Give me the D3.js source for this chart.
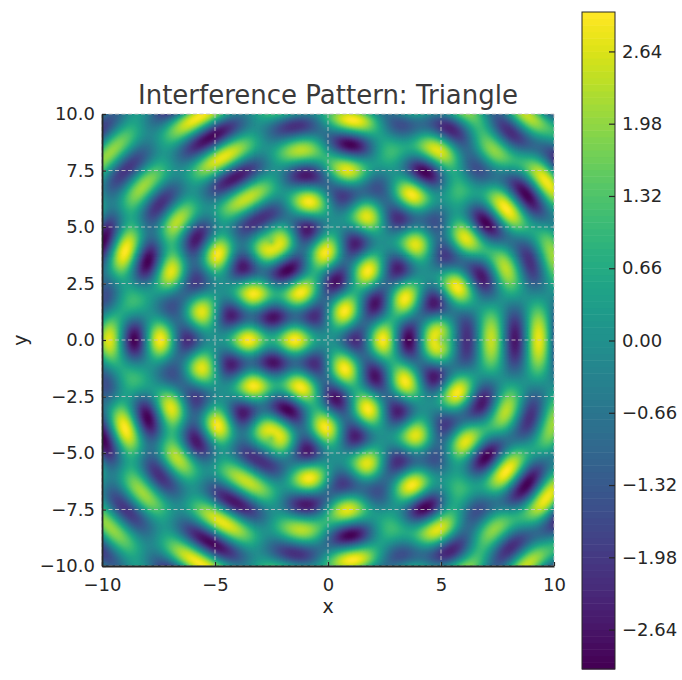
<!DOCTYPE html>
<html>
<head>
<meta charset="utf-8">
<script src="https://cdn.jsdelivr.net/npm/d3@7"></script>
<style>
  html, body { margin: 0; padding: 0; background: #fff; }
  svg { display: block; font-family: "DejaVu Sans", sans-serif; }
</style>
</head>
<body>
<svg id="chart" width="682" height="680"></svg>
<script>
// ---- data ----
const title = "Interference Pattern: Triangle";
const sourceX = [5, -2.5, -2.5];          // triangle vertices (x)
const sourceY = [0, 4.33, -4.33];         // triangle vertices (y)
const waveNumber = [Math.PI];             // k in sin(k r)
const domainX = [-10, 10];
const domainY = [-10, 10];
const xTicks = [-10, -5, 0, 5, 10];
const yTicks = [-10, -7.5, -5, -2.5, 0, 2.5, 5, 7.5, 10];
const colorDomain = [-3.0, 3.0];
const levelCount = [100];
const cbTicks = [-2.64, -1.98, -1.32, -0.66, 0, 0.66, 1.32, 1.98, 2.64];

// ---- layout ----
const svg = d3.select("#chart");
const plot = { left: 102, top: 114, size: 452 };
const cb = { left: 582, top: 12, width: 33, height: 657 };
const ink = "#262626";

const x = d3.scaleLinear().domain(domainX).range([plot.left, plot.left + plot.size]);
const y = d3.scaleLinear().domain(domainY).range([plot.top + plot.size, plot.top]);

// ---- field ----
const n = 300;
const values = new Float64Array(n * n);
for (let j = 0; j < n; j++) {
  const yy = domainY[1] - (j + 0.5) * (domainY[1] - domainY[0]) / n;
  for (let i = 0; i < n; i++) {
    const xx = domainX[0] + (i + 0.5) * (domainX[1] - domainX[0]) / n;
    let s = 0;
    for (let k = 0; k < sourceX.length; k++) {
      const r = Math.hypot(xx - sourceX[k], yy - sourceY[k]);
      s += Math.sin(waveNumber[0] * r);
    }
    values[j * n + i] = s;
  }
}

const nb = levelCount[0];
const levels = d3.range(nb + 1).map(i => colorDomain[0] + i * (colorDomain[1] - colorDomain[0]) / nb);
const bandColor = i => d3.interpolateViridis(i / (nb - 1));

const contours = d3.contours().size([n, n]).thresholds(levels.slice(0, nb))(values);

const proj = d3.geoTransform({
  point(gx, gy) {
    this.stream.point(
      x(domainX[0] + gx * (domainX[1] - domainX[0]) / n),
      y(domainY[1] - gy * (domainY[1] - domainY[0]) / n)
    );
  }
});
const path = d3.geoPath(proj);

svg.append("defs").append("clipPath").attr("id", "clip")
  .append("rect").attr("x", plot.left).attr("y", plot.top)
  .attr("width", plot.size).attr("height", plot.size);

svg.append("g").attr("clip-path", "url(#clip)")
  .selectAll("path").data(contours).join("path")
  .attr("d", path)
  .attr("fill", (d, i) => bandColor(i))
  .attr("stroke", (d, i) => bandColor(i))
  .attr("stroke-width", 0.4);

// ---- grid ----
const grid = svg.append("g").attr("stroke", "#c8c8c8").attr("stroke-opacity", 0.85)
  .attr("stroke-width", 1).attr("stroke-dasharray", "4,2.5");
grid.selectAll("line.gx").data(xTicks).join("line").attr("class", "gx")
  .attr("x1", d => x(d)).attr("x2", d => x(d))
  .attr("y1", plot.top).attr("y2", plot.top + plot.size);
grid.selectAll("line.gy").data(yTicks).join("line").attr("class", "gy")
  .attr("y1", d => y(d)).attr("y2", d => y(d))
  .attr("x1", plot.left).attr("x2", plot.left + plot.size);

// ---- axes ----
const fmtX = d3.format("d");
const fmtY = d3.format(".1f");
const xAxis = svg.append("g").attr("transform", `translate(0,${plot.top + plot.size})`)
  .call(d3.axisBottom(x).tickValues(xTicks).tickFormat(fmtX).tickSizeInner(-4).tickSizeOuter(0).tickPadding(12));
const yAxis = svg.append("g").attr("transform", `translate(${plot.left},0)`)
  .call(d3.axisLeft(y).tickValues(yTicks).tickFormat(fmtY).tickSizeInner(-4).tickSizeOuter(0).tickPadding(12));
[xAxis, yAxis].forEach(a => {
  a.select(".domain").attr("stroke", ink).attr("stroke-width", 1.8);
  a.selectAll(".tick line").attr("stroke", ink).attr("stroke-width", 1.2);
  a.selectAll(".tick text").attr("fill", ink).style("font-size", "18px")
    .style("font-family", "DejaVu Sans, sans-serif");
});
yAxis.selectAll(".tick text").attr("x", -7);

svg.append("text").attr("x", x(0)).attr("y", 613).attr("text-anchor", "middle")
  .attr("fill", ink).style("font-size", "19px").text("x");
svg.append("text").attr("transform", `translate(27,${y(0)}) rotate(-90)`)
  .attr("text-anchor", "middle").attr("fill", ink).style("font-size", "19px").text("y");

svg.append("text").attr("x", x(0)).attr("y", 104).attr("text-anchor", "middle")
  .attr("fill", "#3a3a3a").style("font-size", "26px").text(title);

// ---- colorbar ----
const cy = d3.scaleLinear().domain(colorDomain).range([cb.top + cb.height, cb.top]);
svg.append("g").selectAll("rect").data(d3.range(nb)).join("rect")
  .attr("x", cb.left).attr("width", cb.width)
  .attr("y", i => cy(levels[i + 1]))
  .attr("height", i => cy(levels[i]) - cy(levels[i + 1]) + 0.5)
  .attr("fill", i => bandColor(i));
svg.append("rect").attr("x", cb.left).attr("y", cb.top)
  .attr("width", cb.width).attr("height", cb.height)
  .attr("fill", "none").attr("stroke", ink).attr("stroke-width", 1);
const cbAxis = svg.append("g").attr("transform", `translate(${cb.left + cb.width},0)`)
  .call(d3.axisRight(cy).tickValues(cbTicks).tickFormat(d3.format(".2f")).tickSizeInner(-6).tickSizeOuter(0).tickPadding(13));
cbAxis.select(".domain").remove();
cbAxis.selectAll(".tick line").attr("stroke", ink).attr("stroke-width", 1.2);
cbAxis.selectAll(".tick text").attr("fill", ink).style("font-size", "18px")
  .style("font-family", "DejaVu Sans, sans-serif");
cbAxis.selectAll(".tick text").attr("x", 7);
</script>
</body>
</html>
